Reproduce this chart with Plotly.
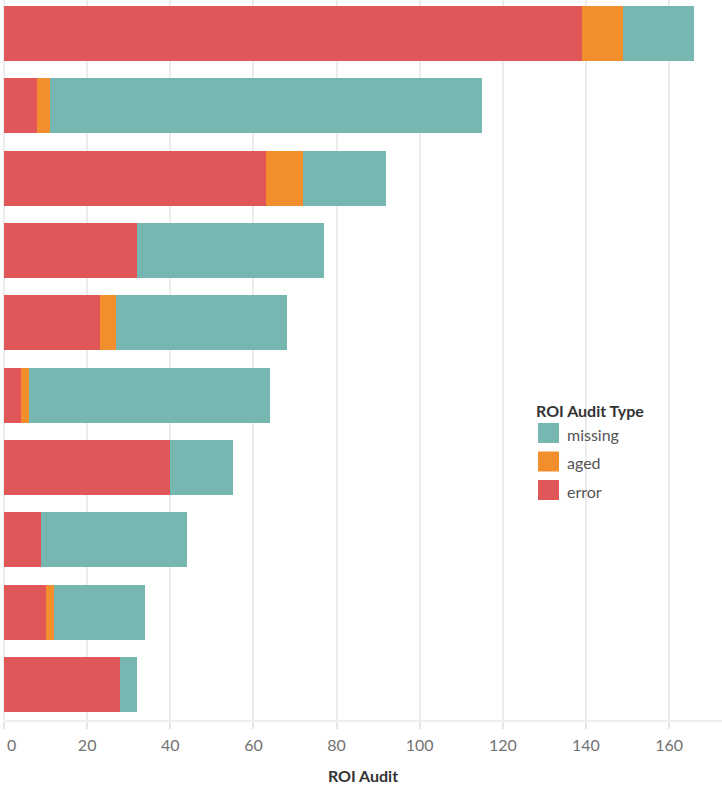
import plotly.graph_objects as go

# ---- data ----
rows = ["R1", "R2", "R3", "R4", "R5", "R6", "R7", "R8", "R9", "R10"]
error = [139, 8, 63, 32, 23, 4, 40, 9, 10, 28]
aged = [10, 3, 9, 0, 4, 2, 0, 0, 2, 0]
missing = [17, 104, 20, 45, 41, 58, 15, 35, 22, 4]
x_ticks = [0, 20, 40, 60, 80, 100, 120, 140, 160]
legend_order = ["missing", "aged", "error"]
legend_title = "ROI Audit Type"
x_title = "ROI Audit"

colors = {"error": "#E15759", "aged": "#F28E2B", "missing": "#76B7B2"}
values = {"error": error, "aged": aged, "missing": missing}

W, H = 722, 791
ML, MR, MT, MB = 4, 0, 0, 71
PW, PH = W - ML - MR, H - MT - MB
FONT = "Lato"
TICK_COLOR = "#727272"

fig = go.Figure()
for name in ["error", "aged", "missing"]:
    fig.add_trace(go.Bar(
        y=rows, x=values[name], orientation="h", name=name,
        marker=dict(color=colors[name], line=dict(width=0)),
        showlegend=False,
    ))

def px_x(px):
    return (px - ML) / PW

def px_y(py):
    return 1 - (py - MT) / PH

# custom legend (larger swatches like the reference)
shapes = []
annotations = [dict(
    text=legend_title, xref="paper", yref="paper",
    x=px_x(534), y=px_y(410), xanchor="left", yanchor="middle",
    showarrow=False, font=dict(family=FONT, size=16, color="#333333", weight="bold"),
)]
for i, name in enumerate(legend_order):
    top = 423 + i * 28.5
    shapes.append(dict(
        type="rect", xref="paper", yref="paper",
        x0=px_x(538), x1=px_x(559), y0=px_y(top), y1=px_y(top + 20),
        fillcolor=colors[name], line=dict(width=0), layer="above",
    ))
    annotations.append(dict(
        text=name, xref="paper", yref="paper",
        x=px_x(565), y=px_y(top + 11), xanchor="left", yanchor="middle",
        showarrow=False, font=dict(family=FONT, size=16, color="#555555"),
    ))

# the first tick label sits just inside the plot's left edge (as in the reference)
tick_text = ["" if t == x_ticks[0] else str(t) for t in x_ticks]
annotations.append(dict(
    text=str(x_ticks[0]), xref="x", yref="paper",
    x=x_ticks[0], y=px_y(744), xanchor="left", yanchor="middle", xshift=1,
    showarrow=False, font=dict(family=FONT, size=16, color=TICK_COLOR),
))

fig.update_layout(
    width=W, height=H,
    margin=dict(l=ML, r=MR, t=MT, b=MB, autoexpand=False),
    paper_bgcolor="white", plot_bgcolor="white",
    barmode="stack", bargap=0.24,
    font=dict(family=FONT),
    shapes=shapes, annotations=annotations,
    xaxis=dict(
        range=[0, (W - ML - MR) / 4.157],
        tickvals=x_ticks, ticktext=tick_text,
        showgrid=True, gridcolor="#ececec", gridwidth=1.5,
        zeroline=True, zerolinecolor="#ececec", zerolinewidth=1.5,
        showline=True, linecolor="#eeeeee", linewidth=1.5,
        ticks="outside", ticklen=7, tickcolor="#e6e6e6", tickwidth=1.5,
        tickfont=dict(family=FONT, size=16, color=TICK_COLOR),
        ticklabelstandoff=3,
        automargin=False,
        title=dict(text=x_title, standoff=18,
                   font=dict(family=FONT, size=16, color="#333333", weight="bold")),
        fixedrange=True,
    ),
    yaxis=dict(
        categoryorder="array", categoryarray=rows,
        range=[9.49, -0.463],
        showticklabels=False, showgrid=False, zeroline=False, showline=False,
        ticks="", fixedrange=True, automargin=False,
    ),
)

fig.write_html(
    "out.html",
    config={"displayModeBar": False},
    post_script="document.body.style.margin='0';document.body.style.overflow='hidden';",
)
